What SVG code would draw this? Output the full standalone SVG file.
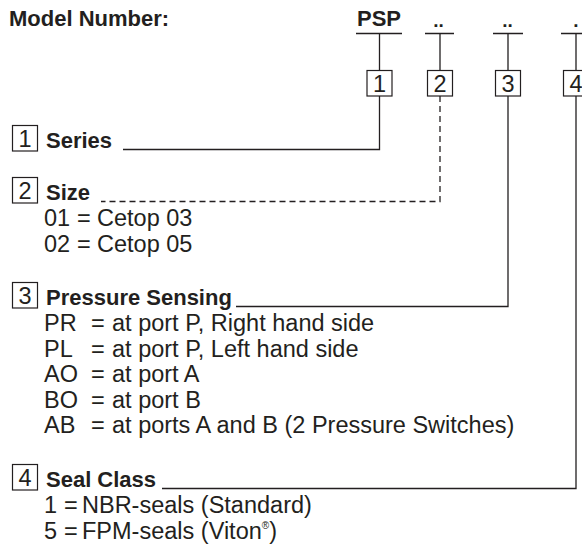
<svg xmlns="http://www.w3.org/2000/svg" width="582" height="548" viewBox="0 0 582 548">
<style>
text{font-family:"Liberation Sans",Arial,sans-serif;fill:#231f20;font-size:23.5px}
.b{font-weight:bold;font-size:22px}
.box{fill:none;stroke:#231f20;stroke-width:1.2}
.ln{fill:none;stroke:#231f20;stroke-width:1.3}
.dash{stroke-dasharray:6,4}
.c{text-anchor:middle}
.dot{font-weight:bold;font-size:19px;text-anchor:middle}
</style>
<rect width="582" height="548" fill="#fff"/>
<g id="header">
<text class="b" x="9" y="26">Model Number:</text>
<text class="b" x="357" y="26">PSP</text>
<text class="dot" x="438.5" y="27">..</text>
<text class="dot" x="507.5" y="27">..</text>
<text class="dot" x="576" y="27">.</text>
</g>
<g id="connectors">
<path class="ln" d="M356 33.5H402M425 33.5H454M493 33.5H523M561 33.5H590"/>
<path class="ln" d="M379.5 33.5V70M440 33.5V70M508 33.5V70M576 33.5V70"/>
<path class="ln" d="M379.5 96V149.5H123"/>
<path class="ln dash" d="M440 96V201.5H101"/>
<path class="ln" d="M508 96V306.5H236"/>
<path class="ln" d="M576 96V488.5H162"/>
</g>
<g id="top-1"><rect class="box" x="367" y="70.5" width="25" height="25.5"/><text class="c" x="379.5" y="92">1</text></g>
<g id="top-2"><rect class="box" x="427.5" y="70.5" width="25" height="25.5"/><text class="c" x="440" y="92">2</text></g>
<g id="top-3"><rect class="box" x="495.5" y="70.5" width="25" height="25.5"/><text class="c" x="508" y="92">3</text></g>
<g id="top-4"><rect class="box" x="563.5" y="70.5" width="25" height="25.5"/><text class="c" x="576" y="92">4</text></g>
<g id="series">
<rect class="box" x="12.5" y="125.5" width="25" height="25.5"/><text class="c" x="25" y="147">1</text>
<text class="b" x="46" y="148">Series</text>
</g>
<g id="size">
<rect class="box" x="12.5" y="177.5" width="25" height="25.5"/><text class="c" x="25" y="199">2</text>
<text class="b" x="46" y="200">Size</text>
<text x="44" y="226">01</text><text x="77" y="226">=</text><text x="97" y="226">Cetop 03</text>
<text x="44" y="251.5">02</text><text x="77" y="251.5">=</text><text x="97" y="251.5">Cetop 05</text>
</g>
<g id="pressure-sensing">
<rect class="box" x="12.5" y="282.5" width="25" height="25.5"/><text class="c" x="25" y="304">3</text>
<text class="b" x="46" y="305">Pressure Sensing</text>
<text x="44" y="331">PR</text><text x="91" y="331">=</text><text x="112" y="331">at port P, Right hand side</text>
<text x="44" y="356.5">PL</text><text x="91" y="356.5">=</text><text x="112" y="356.5">at port P, Left hand side</text>
<text x="44" y="382">AO</text><text x="91" y="382">=</text><text x="112" y="382">at port A</text>
<text x="44" y="407.5">BO</text><text x="91" y="407.5">=</text><text x="112" y="407.5">at port B</text>
<text x="44" y="433">AB</text><text x="91" y="433">=</text><text x="112" y="433">at ports A and B (2 Pressure Switches)</text>
</g>
<g id="seal-class">
<rect class="box" x="12.5" y="464.5" width="25" height="25.5"/><text class="c" x="25" y="486">4</text>
<text class="b" x="46" y="487">Seal Class</text>
<text x="44" y="513">1</text><text x="64" y="513">=</text><text x="82" y="513">NBR-seals (Standard)</text>
<text x="44" y="538.5">5</text><text x="64" y="538.5">=</text><text x="82" y="538.5">FPM-seals (Viton<tspan font-size="10" dy="-10">®</tspan><tspan dy="10">)</tspan></text>
</g>
</svg>
